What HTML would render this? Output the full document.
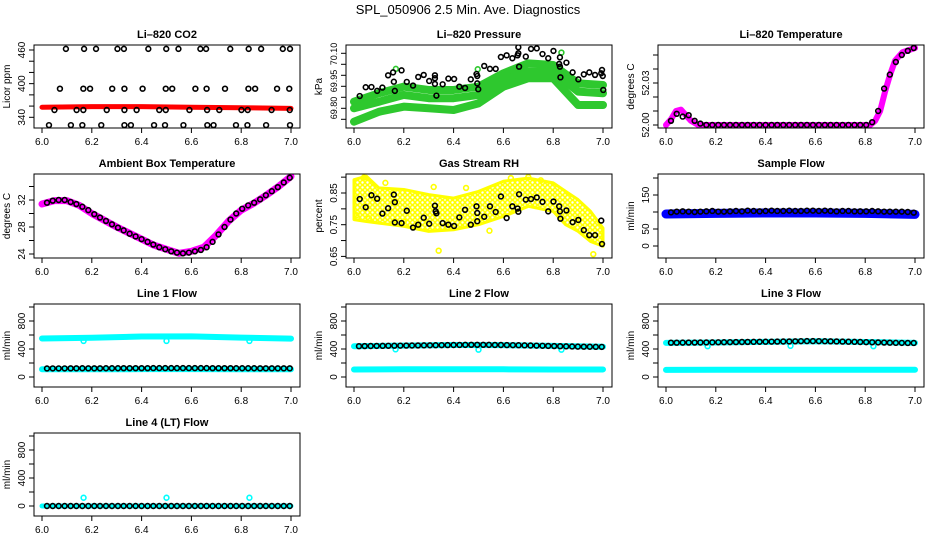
<!DOCTYPE html>
<html><head><meta charset="utf-8"><style>
html,body{margin:0;padding:0;background:#fff;}
svg{display:block;font-family:"Liberation Sans",sans-serif;}
</style></head><body>
<svg id="c" width="936" height="540" viewBox="0 0 936 540">
<defs>
<pattern id="yelPat" width="5" height="5" patternUnits="userSpaceOnUse">
<circle cx="2.5" cy="2.5" r="2" fill="none" stroke="#ffff00" stroke-width="1.6"/>
</pattern>
</defs>
<text x="468" y="14" text-anchor="middle" font-size="13">SPL_050906  2.5 Min. Ave. Diagnostics</text>
</svg>
<script>
// ---- shared data ----
const blackTimes=[6.020,6.043,6.067,6.091,6.115,6.138,6.162,6.186,6.210,6.233,6.257,6.281,6.305,6.328,6.352,6.376,6.400,6.424,6.447,6.471,6.495,6.519,6.542,6.566,6.590,6.614,6.638,6.661,6.685,6.709,6.733,6.757,6.780,6.804,6.828,6.852,6.876,6.899,6.923,6.947,6.971,6.995];
const bandTimes=[6.0,6.2,6.4,6.6,6.8,7.0];
const dipTimes=[6.167,6.5,6.833];
const xTicks=[6.0,6.2,6.4,6.6,6.8,7.0];
const xTickLabels=["6.0","6.2","6.4","6.6","6.8","7.0"];
// CO2
const co2X=[6.096,6.169,6.217,6.303,6.329,6.427,6.499,6.548,6.636,6.659,6.756,6.830,6.880,6.967,6.996,
6.072,6.166,6.193,6.282,6.331,6.404,6.497,6.523,6.616,6.661,6.735,6.829,6.856,6.944,6.993,
6.050,6.139,6.166,6.260,6.331,6.380,6.471,6.497,6.592,6.663,6.712,6.801,6.826,6.922,6.995,
6.028,6.116,6.162,6.238,6.331,6.357,6.450,6.494,6.568,6.664,6.689,6.779,6.825,6.900,6.996];
const co2V=[462,462,462,462,462,462,462,462,462,462,462,462,462,462,462,
391,391,391,391,391,391,391,391,391,391,391,391,391,391,391,
353,353,353,353,353,353,353,353,353,353,353,353,353,353,353,
326,326,326,326,326,326,326,326,326,326,326,326,326,326,326];
const co2Band=[358,359,359,358,357,356];
// Pressure
const presBandTimes=[6.0,6.1,6.2,6.3,6.4,6.5,6.6,6.7,6.8,6.9,7.0];
const presUpper=[69.836,69.882,69.918,69.900,69.900,69.918,69.991,70.045,70.036,69.936,69.927];
const presMid=[69.800,69.836,69.873,69.855,69.855,69.873,69.954,70.000,70.000,69.891,69.882];
const presLower=[69.727,69.781,69.809,69.800,69.791,69.827,69.918,69.964,69.964,69.818,69.818];
const presX=[6.023,6.047,6.070,6.093,6.114,6.137,6.157,6.160,6.164,6.191,6.212,6.237,6.258,6.280,6.302,6.325,6.325,6.325,6.331,6.356,6.379,6.402,6.423,6.446,6.469,6.492,6.495,6.495,6.499,6.523,6.546,6.569,6.590,6.613,6.636,6.657,6.660,6.660,6.663,6.690,6.711,6.734,6.757,6.780,6.801,6.824,6.827,6.827,6.829,6.853,6.878,6.901,6.923,6.945,6.968,6.993,6.996,6.999,7.001];
const presV=[69.867,69.915,69.916,69.895,69.913,69.980,69.996,69.945,69.895,70.007,69.944,69.924,69.971,69.982,69.949,69.980,69.964,69.933,69.869,69.931,69.962,69.960,69.918,69.911,69.958,69.987,69.976,69.936,69.904,70.031,70.015,70.015,70.080,70.089,70.073,70.089,70.100,70.133,70.027,70.082,70.124,70.127,70.096,70.073,70.113,70.042,70.027,70.078,69.969,70.049,69.996,69.958,69.985,69.996,69.982,69.991,70.009,69.976,69.900];
const presGreenX=[6.168,6.833,6.497];
const presGreenV=[70.015,70.104,70.013];
// Li-820 temperature
const ltBandTimes=[6.0,6.02,6.04,6.06,6.08,6.10,6.13,6.2,6.4,6.6,6.82,6.84,6.86,6.88,6.90,6.92,6.95,7.0];
const ltBand=[52.000,52.004,52.010,52.011,52.007,52.003,52.000,52.000,52.000,52.000,52.000,52.003,52.010,52.024,52.036,52.046,52.052,52.055];
const ltBlack=[52.003,52.008,52.006,52.007,52.003,52.001,52.000,52.000,52.000,52.000,52.000,52.000,52.000,52.000,52.000,52.000,52.000,52.000,52.000,52.000,52.000,52.000,52.000,52.000,52.000,52.000,52.000,52.000,52.000,52.000,52.000,52.000,52.000,52.000,52.002,52.010,52.026,52.036,52.045,52.050,52.053,52.055];
// Ambient
const ambBandTimes=[6.0,6.05,6.1,6.15,6.2,6.25,6.3,6.35,6.4,6.45,6.5,6.55,6.6,6.65,6.7,6.75,6.8,6.85,6.9,6.95,7.0];
const ambBand=[31.4,31.9,31.9,31.2,30.0,29.0,28.0,27.1,26.2,25.3,24.7,24.1,24.4,25.0,26.8,28.9,30.5,31.5,32.7,34.0,35.5];
const ambBlack=[31.6,31.9,32.0,32.0,31.7,31.4,31.0,30.5,29.9,29.4,28.9,28.4,27.9,27.5,27.0,26.6,26.2,25.8,25.4,25.0,24.7,24.4,24.2,24.1,24.2,24.4,24.6,25.0,25.8,26.9,28.0,29.1,30.0,30.7,31.2,31.6,32.1,32.7,33.3,33.9,34.6,35.3];
// RH
const rhEnvTimes=[6.0,6.05,6.1,6.2,6.3,6.4,6.5,6.6,6.7,6.8,6.85,6.9,6.95,7.0];
const rhUpper=[0.892,0.903,0.866,0.861,0.845,0.834,0.855,0.887,0.897,0.882,0.855,0.829,0.792,0.739];
const rhLower=[0.766,0.760,0.755,0.745,0.729,0.734,0.750,0.776,0.808,0.792,0.750,0.729,0.697,0.682];
const rhYellowX=[6.040,6.32,6.34,6.544,6.63,6.961,6.126,6.45,6.01,6.06,6.2,6.7,6.75];
const rhYellowV=[0.899,0.869,0.668,0.731,0.897,0.657,0.882,0.866,0.78,0.77,0.76,0.90,0.89];
const rhX=[6.023,6.047,6.070,6.093,6.114,6.137,6.160,6.164,6.164,6.191,6.212,6.237,6.258,6.280,6.302,6.325,6.328,6.331,6.356,6.379,6.402,6.423,6.446,6.469,6.492,6.495,6.495,6.523,6.546,6.569,6.590,6.613,6.636,6.657,6.660,6.663,6.690,6.711,6.734,6.757,6.780,6.801,6.824,6.827,6.829,6.853,6.878,6.901,6.923,6.945,6.968,6.993,6.996];
const rhV=[0.831,0.805,0.843,0.832,0.785,0.802,0.845,0.821,0.757,0.755,0.794,0.741,0.750,0.772,0.753,0.810,0.792,0.786,0.755,0.750,0.746,0.773,0.797,0.750,0.808,0.787,0.761,0.775,0.808,0.790,0.839,0.771,0.808,0.801,0.791,0.846,0.829,0.831,0.836,0.822,0.792,0.823,0.808,0.792,0.769,0.795,0.758,0.765,0.733,0.717,0.717,0.763,0.689];
// Flows
const sampleBand=[94,96,97,97,96,93];
const sampleBlack=[99,101,102,101,100,101,102,103,101,101,102,103,102,104,103,102,103,104,103,103,104,103,103,104,104,103,104,103,102,103,103,102,102,102,103,102,101,101,101,101,100,98];
const line1Upper=[550,560,578,580,562,548];
const line1Lower=[110,110,112,112,110,110];
const line1Dips=[515,515,515];
const line1Black=[122,123,123,123,124,124,125,124,124,124,125,125,125,126,126,126,126,126,127,127,127,127,127,127,127,127,127,127,126,126,126,126,125,125,125,125,124,124,124,124,124,124];
const line2Upper=[440,448,458,455,445,432];
const line2Lower=[108,110,110,110,108,108];
const line2Dips=[395,390,390];
const line2Black=[440,442,443,444,445,446,447,448,449,450,451,452,453,454,455,456,457,458,459,460,460,460,459,458,457,456,455,454,452,450,448,446,444,442,440,438,436,434,433,432,431,430];
const line3Upper=[488,492,502,510,500,488];
const line3Lower=[102,104,104,104,104,104];
const line3Dips=[440,445,440];
const line3Black=[490,490,491,492,492,493,494,495,496,497,498,499,500,501,502,503,504,505,506,507,508,510,512,513,513,512,511,510,508,506,504,502,500,498,496,494,492,490,488,487,486,486];
const line4Band=[0,0,0,0,0,0];
const line4Dips=[118,118,118];
const line4Black=[0,0,0,0,0,0,0,0,0,0,0,0,0,0,0,0,0,0,0,0,0,0,0,0,0,0,0,0,0,0,0,0,0,0,0,0,0,0,0,0,0,0];

const NS="http://www.w3.org/2000/svg";
const svg=document.getElementById('c');
function el(tag,attrs,parent){const e=document.createElementNS(NS,tag);for(const k in attrs)e.setAttribute(k,attrs[k]);(parent||svg).appendChild(e);return e;}
const cols=[34,346,658], rows=[[45,128],[174,258],[304,387],[433,516]];

function panel(o){
  const L=cols[o.c],R=L+266,T=rows[o.r][0],B=rows[o.r][1];
  const g=el('g',{});
  
  
  const sx=v=>L+8+(v-6)*249;
  const sy=v=>o.y1+(v-o.v1)*(o.y2-o.y1)/(o.v2-o.v1);
  const t=el('text',{x:(L+R)/2,y:T-7,'text-anchor':'middle','font-size':11,'font-weight':'bold'},g);
  t.textContent=o.title;
  
  
  const clip=el('clipPath',{id:'cl'+o.name},g);
  el('rect',{x:L,y:T,width:R-L,height:B-T},clip);
  const pg=el('g',{'clip-path':'url(#cl'+o.name+')'},g);
  o.draw(pg,sx,sy);
  const box=el('rect',{x:L,y:T,width:R-L,height:B-T,fill:'none',stroke:'#000','stroke-width':1},g);
  
  
  xTicks.forEach((v,i)=>{
    el('line',{x1:sx(v),x2:sx(v),y1:B,y2:B+5,stroke:'#000'},g);
    const tx=el('text',{x:sx(v),y:B+17,'text-anchor':'middle','font-size':10},g);
    tx.textContent=xTickLabels[i];
    
    
  });
  o.yTicks.forEach(v=>{el('line',{x1:L-5,x2:L,y1:sy(v),y2:sy(v),stroke:'#000'},g);});
  o.yLabels.forEach((s,i)=>{
    const y=o.yLabelPos?o.yLabelPos[i]:sy(parseFloat(s));
    const tx=el('text',{x:0,y:0,'text-anchor':'middle','font-size':o.yfs||10,transform:`translate(${L-9},${y}) rotate(-90)`},g);
    tx.textContent=s;
    
    
  });
  const yt=el('text',{x:0,y:0,'text-anchor':'middle','font-size':10,transform:`translate(${L-24},${(T+B)/2}) rotate(-90)`},g);
  yt.textContent=o.ylab;
  
  
}
function band(g,sx,sy,xs,vs,color,w){
  const p=el('polyline',{points:xs.map((x,i)=>sx(x)+','+sy(vs[i])).join(' '),fill:'none',stroke:color,'stroke-width':w,'stroke-linecap':'round','stroke-linejoin':'round'},g);
  
  
}
function pts(g,sx,sy,xs,vs,color){
  xs.forEach((x,i)=>{
    const c=el('circle',{cx:sx(x),cy:sy(vs[i]),r:2.4,fill:'none',stroke:color,'stroke-width':1.6},g);
    
    
  });
}
const MAG='#ff00ff',CY='#00ffff',GR='#2ec82e',YE='#ffff00';

panel({name:'co2-panel',c:0,r:0,title:'Li\u2013820 CO2',ylab:'Licor ppm',v1:340,y1:117.3,v2:460,y2:50,
  yTicks:[340,360,380,400,420,440,460],yLabels:['340','400','460'],
  draw:(g,sx,sy)=>{band(g,sx,sy,bandTimes,co2Band,'#ff0000',5);pts(g,sx,sy,co2X,co2V,'#000');}});
panel({name:'pressure-panel',c:1,r:0,title:'Li\u2013820 Pressure',ylab:'kPa',v1:69.80,y1:108.3,v2:70.10,y2:53.3,yfs:9,
  yTicks:[69.74,69.80,69.86,69.92,69.98,70.04,70.10],yLabels:['69.80','69.95','70.10'],yLabelPos:[108,81,54],
  draw:(g,sx,sy)=>{
    band(g,sx,sy,presBandTimes,presUpper,GR,8);band(g,sx,sy,presBandTimes,presMid,GR,8);band(g,sx,sy,presBandTimes,presLower,GR,8);
    pts(g,sx,sy,presGreenX,presGreenV,GR);pts(g,sx,sy,presX,presV,'#000');}});
panel({name:'li820-temperature-panel',c:2,r:0,title:'Li\u2013820 Temperature',ylab:'degrees C',v1:52.00,y1:125,v2:52.03,y2:83,
  yTicks:[52.00,52.01,52.02,52.03,52.04,52.05],yLabels:['52.00','52.03'],
  draw:(g,sx,sy)=>{band(g,sx,sy,ltBandTimes,ltBand,MAG,6);pts(g,sx,sy,blackTimes,ltBlack,'#000');}});
panel({name:'ambient-temperature-panel',c:0,r:1,title:'Ambient Box Temperature',ylab:'degrees C',v1:24,y1:254,v2:32,y2:200,
  yTicks:[24,26,28,30,32,34],yLabels:['24','28','32'],
  draw:(g,sx,sy)=>{band(g,sx,sy,ambBandTimes,ambBand,MAG,7);pts(g,sx,sy,blackTimes,ambBlack,'#000');}});
panel({name:'rh-panel',c:1,r:1,title:'Gas Stream RH',ylab:'percent',v1:0.85,y1:193,v2:0.75,y2:224.7,
  yTicks:[0.65,0.70,0.75,0.80,0.85,0.90],yLabels:['0.65','0.75','0.85'],
  draw:(g,sx,sy)=>{
    const up=rhEnvTimes.map((x,i)=>sx(x)+','+sy(rhUpper[i]));
    const lo=rhEnvTimes.map((x,i)=>sx(x)+','+sy(rhLower[i])).reverse();
    const p=el('polygon',{points:up.concat(lo).join(' '),fill:'url(#yelPat)',stroke:YE,'stroke-width':3,'stroke-linejoin':'round'},g);
    
    
    pts(g,sx,sy,rhYellowX,rhYellowV,YE);pts(g,sx,sy,rhX,rhV,'#000');}});
panel({name:'sample-flow-panel',c:2,r:1,title:'Sample Flow',ylab:'ml/min',v1:150,y1:195,v2:50,y2:229,
  yTicks:[0,50,100,150,200],yLabels:['0','50','150'],
  draw:(g,sx,sy)=>{band(g,sx,sy,bandTimes,sampleBand,'#0000ff',9);pts(g,sx,sy,blackTimes,sampleBlack,'#000');}});
const flowTicks=[0,200,400,600,800,1000],flowLabels=['0','400','800'];
panel({name:'line1-flow-panel',c:0,r:2,title:'Line 1 Flow',ylab:'ml/min',v1:0,y1:377,v2:800,y2:321,yTicks:flowTicks,yLabels:flowLabels,
  draw:(g,sx,sy)=>{band(g,sx,sy,bandTimes,line1Upper,CY,6);band(g,sx,sy,bandTimes,line1Lower,CY,6);pts(g,sx,sy,dipTimes,line1Dips,CY);pts(g,sx,sy,blackTimes,line1Black,'#000');}});
panel({name:'line2-flow-panel',c:1,r:2,title:'Line 2 Flow',ylab:'ml/min',v1:0,y1:377,v2:800,y2:321,yTicks:flowTicks,yLabels:flowLabels,
  draw:(g,sx,sy)=>{band(g,sx,sy,bandTimes,line2Upper,CY,6);band(g,sx,sy,bandTimes,line2Lower,CY,6);pts(g,sx,sy,dipTimes,line2Dips,CY);pts(g,sx,sy,blackTimes,line2Black,'#000');}});
panel({name:'line3-flow-panel',c:2,r:2,title:'Line 3 Flow',ylab:'ml/min',v1:0,y1:377,v2:800,y2:321,yTicks:flowTicks,yLabels:flowLabels,
  draw:(g,sx,sy)=>{band(g,sx,sy,bandTimes,line3Upper,CY,6);band(g,sx,sy,bandTimes,line3Lower,CY,6);pts(g,sx,sy,dipTimes,line3Dips,CY);pts(g,sx,sy,blackTimes,line3Black,'#000');}});
panel({name:'line4-flow-panel',c:0,r:3,title:'Line 4 (LT) Flow',ylab:'ml/min',v1:0,y1:506,v2:800,y2:450,yTicks:flowTicks,yLabels:flowLabels,
  draw:(g,sx,sy)=>{band(g,sx,sy,bandTimes,line4Band,CY,5);pts(g,sx,sy,dipTimes,line4Dips,CY);pts(g,sx,sy,blackTimes,line4Black,'#000');}});
</script>
</body></html>
